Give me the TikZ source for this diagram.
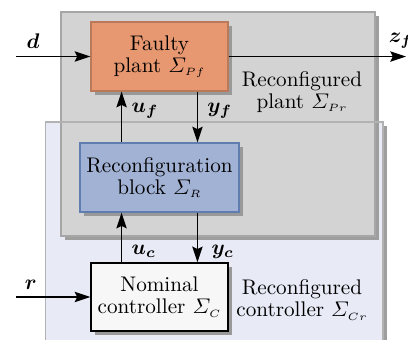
\documentclass[tikz,border=0pt]{standalone}
\usepackage{amsmath,amssymb}
\usepackage{xcolor}
\usepackage{tikz}
\usetikzlibrary{arrows.meta,positioning,shadows}

\definecolor{plantfill}{RGB}{232,152,112}
\definecolor{reconfill}{RGB}{162,178,212}
\definecolor{reconline}{RGB}{95,125,175}
\definecolor{ctrlfill}{RGB}{247,247,247}
\definecolor{grayarea}{RGB}{211,211,211}
\definecolor{bluearea}{RGB}{232,234,246}

\begin{document}
\begin{tikzpicture}[
    x=1cm,y=1cm,
    blk/.style={draw, align=center, semithick, inner sep=2pt,
                font={\fontsize{10}{10.5}\selectfont},
                drop shadow={shadow xshift=0.06cm, shadow yshift=-0.06cm, fill=black!40, opacity=1}},
    grp/.style={draw=black!35, semithick,
                drop shadow={shadow xshift=0.06cm, shadow yshift=-0.06cm, fill=black!38, opacity=1}},
    lbl/.style={align=center, font={\fontsize{10}{10.5}\selectfont}},
    arrow/.style={-{Stealth[length=2.6mm, width=1.7mm, inset=0.4mm]}, thick}
]
\useasboundingbox (0,0) rectangle (6.773,-5.644);

% Background areas
\draw[grp, fill=bluearea] (0.755,-2.025) rectangle (6.358,-5.81);
\draw[grp, fill=grayarea] (1.013,-0.199) rectangle (6.225,-3.918);
\draw[draw=black!30, semithick] (0.755,-2.025) rectangle (6.358,-5.81);

% Blocks
\node[blk, fill=plantfill, draw=plantfill!80!black, minimum width=2.274cm, minimum height=1.145cm]
    (plant) at (2.648,-0.938) {Faulty\\plant $\varSigma_{\scriptscriptstyle Pf}$};
\node[blk, fill=reconfill, draw=reconline, minimum width=2.64cm, minimum height=1.145cm]
    (recon) at (2.648,-2.947) {Reconfiguration\\block $\varSigma_{\scriptscriptstyle R}$};
\node[blk, fill=ctrlfill, draw=black, minimum width=2.274cm, minimum height=1.13cm]
    (ctrl) at (2.648,-4.930) {Nominal\\controller $\varSigma_{\scriptscriptstyle C}$};

% Area labels
\node[lbl] (plantlbl) at (5.013,-1.527) {Reconfigured\\plant $\varSigma_{\scriptscriptstyle Pr}$};
\node[lbl] (ctrllbl) at (5.013,-4.98) {Reconfigured\\controller $\varSigma_{\scriptscriptstyle Cr}$};

% Inputs and output
\coordinate (din) at (0.266,-0.938);
\coordinate (rin) at (0.266,-4.930);
\coordinate (zout) at (6.74,-0.938);
\draw[arrow] (din) -- (plant.west) node[pos=0.23, above] {$\boldsymbol{d}$};
\draw[arrow] (rin) -- (ctrl.west) node[pos=0.2, above] {$\boldsymbol{r}$};
\draw[arrow] (plant.east) -- (zout) node[pos=0.97, above] {$\boldsymbol{z_f}$};

% Signals between blocks
\draw[arrow] ([xshift=-0.63cm]recon.north) -- ([xshift=-0.63cm]plant.south)
    node[pos=0.62, right=1pt] {$\boldsymbol{u_f}$};
\draw[arrow] ([xshift=0.63cm]plant.south) -- ([xshift=0.63cm]recon.north)
    node[pos=0.38, right=1pt] {$\boldsymbol{y_f}$};
\draw[arrow] ([xshift=-0.63cm]ctrl.north) -- ([xshift=-0.63cm]recon.south)
    node[pos=0.22, right=1pt] {$\boldsymbol{u_c}$};
\draw[arrow] ([xshift=0.63cm]recon.south) -- ([xshift=0.63cm]ctrl.north)
    node[pos=0.78, right=3pt] {$\boldsymbol{y_c}$};
\end{tikzpicture}
\end{document}
